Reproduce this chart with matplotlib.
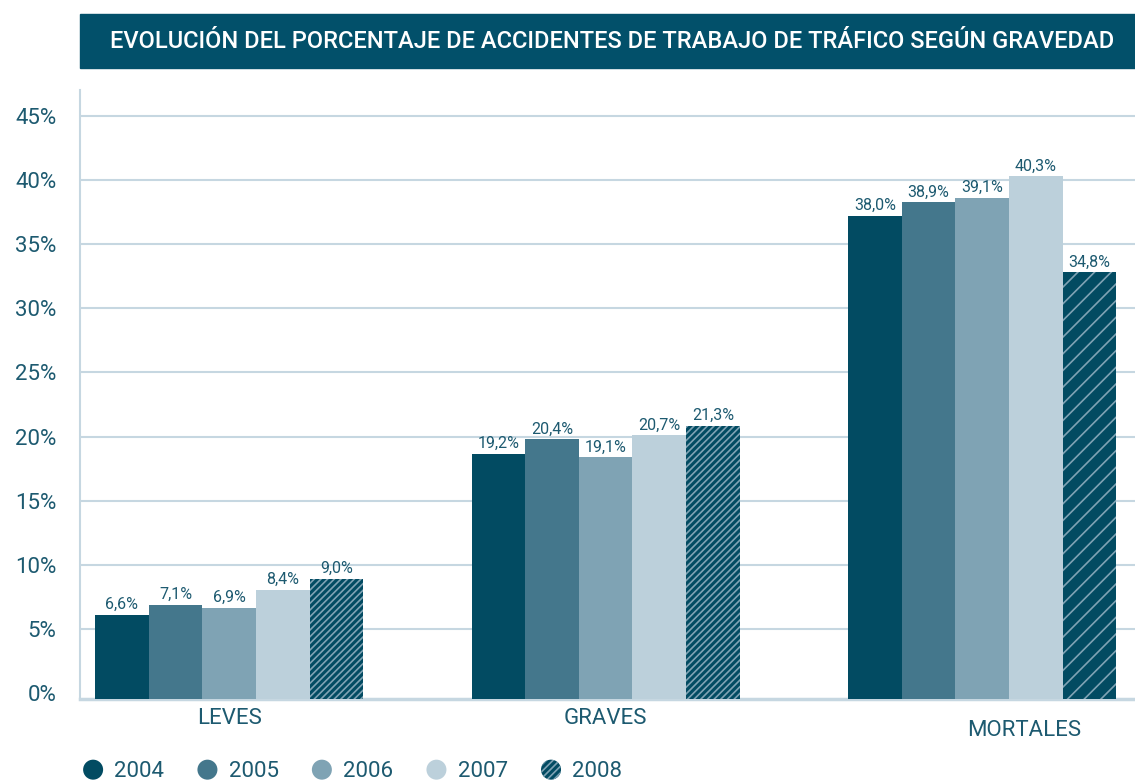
import matplotlib
matplotlib.use("Agg")
import matplotlib.pyplot as plt
import matplotlib.patches as mpatches
from matplotlib.legend_handler import HandlerPatch
import numpy as np

# data
categories = ["LEVES", "GRAVES", "MORTALES"]
years = ["2004", "2005", "2006", "2007", "2008"]
# bar heights as drawn (%)
heights = {
    "2004": [6.1, 18.65, 37.2],
    "2005": [6.9, 19.8, 38.25],
    "2006": [6.65, 18.4, 38.6],
    "2007": [8.05, 20.1, 40.27],
    "2008": [8.9, 20.85, 32.8],
}
# values printed above the bars (%)
printed = {
    "2004": [6.6, 19.2, 38.0],
    "2005": [7.1, 20.4, 38.9],
    "2006": [6.9, 19.1, 39.1],
    "2007": [8.4, 20.7, 40.3],
    "2008": [9.0, 21.3, 34.8],
}
yticks = [0, 5, 10, 15, 20, 25, 30, 35, 40, 45]

# styles
dark = "#024b62"
colors = {"2004": dark, "2005": "#44778c", "2006": "#7fa3b4", "2007": "#bcd0db", "2008": dark}
hatch_col = "#7fa3b4"
text_col = "#1d5a70"
grid_col = "#c6d7e1"
plt.rcParams["font.family"] = ["Roboto", "DejaVu Sans"]
plt.rcParams["hatch.linewidth"] = 1.2

fig = plt.figure(figsize=(11.35, 7.82), dpi=100)
ax = fig.add_axes([80 / 1135, 1 - 699 / 782, 1 - 80 / 1135, (699 - 90) / 782])

x = np.arange(len(categories))
w = 0.1424
ymin, ymax = -0.44, 47.0
for i, yr in enumerate(years):
    hs = np.array(heights[yr])
    bars = ax.bar(x + (i - 2) * w, hs - ymin, bottom=ymin, width=w,
                  color=colors[yr], linewidth=0, zorder=3)
    if yr == "2008":
        for j, b in enumerate(bars):
            b.set_edgecolor(hatch_col)
            b.set_hatch("//" if j == 2 else "/////")
    for b, h, v in zip(bars, hs, printed[yr]):
        ax.annotate(f"{v:.1f}%".replace(".", ","), (b.get_x() + b.get_width() / 2, h),
                    xytext=(0, 2), textcoords="offset points", ha="center", va="bottom",
                    fontsize=11.5, color=text_col)

ax.set_xlim(-0.396, 2.406)
ax.set_ylim(ymin, ymax)
ax.set_yticks(yticks)
ax.set_yticklabels([f"{t}%" for t in yticks], fontsize=16, color=text_col)
ax.tick_params(axis="y", length=0, pad=17)
ax.set_xticks([])
ax.grid(axis="y", color=grid_col, linewidth=1.5, zorder=0)
ax.yaxis.get_gridlines()[0].set_visible(False)
for s in ["top", "right"]:
    ax.spines[s].set_visible(False)
ax.spines["left"].set_color(grid_col)
ax.spines["left"].set_linewidth(1.5)
ax.spines["bottom"].set_color(grid_col)
ax.spines["bottom"].set_linewidth(2.5)

# category labels
cat_offsets = [(0, 0), (0, 0), (42, -11)]
for xi, cat, off in zip(x, categories, cat_offsets):
    ax.annotate(cat, (xi, 1 - 719 / 782), xycoords=("data", "figure fraction"),
                xytext=off, textcoords="offset pixels", ha="center", va="center",
                fontsize=16, color=text_col)

# title band
fig.patches.append(mpatches.Rectangle((80 / 1135, 1 - 68 / 782), 1 - 80 / 1135, 54 / 782,
                                      transform=fig.transFigure, color="#02506a", zorder=0))
fig.text(612 / 1135, 1 - 41 / 782, "EVOLUCIÓN DEL PORCENTAJE DE ACCIDENTES DE TRABAJO DE TRÁFICO SEGÚN GRAVEDAD",
         ha="center", va="center", color="white", fontsize=17, fontweight="medium")

# legend with round handles
def make_circle(legend, orig_handle, xdescent, ydescent, width, height, fontsize):
    r = 7.2
    return mpatches.Circle((width / 2 - xdescent, height / 2 - ydescent), r)

handles = []
for yr in years:
    if yr == "2008":
        handles.append(mpatches.Patch(facecolor=colors[yr], edgecolor=hatch_col, hatch="/////", linewidth=0))
    else:
        handles.append(mpatches.Patch(facecolor=colors[yr], linewidth=0))
leg = fig.legend(handles, years, loc="center left", bbox_to_anchor=(82 / 1135, 1 - 771 / 782),
                 ncol=5, frameon=False, borderpad=0, borderaxespad=0, fontsize=16,
                 handlelength=1.0, handleheight=1.0, handletextpad=0.45, columnspacing=1.45,
                 handler_map={mpatches.Patch: HandlerPatch(patch_func=make_circle)})
for t in leg.get_texts():
    t.set_color(text_col)

fig.savefig("out.png", dpi=100)
